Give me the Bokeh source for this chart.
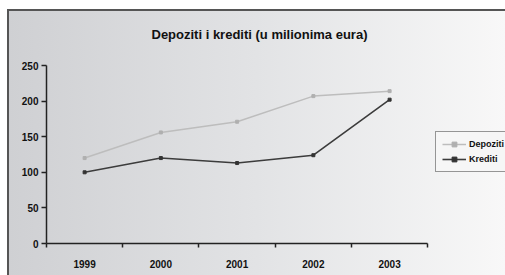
from bokeh.plotting import figure
from bokeh.models import Range1d, FixedTicker, Legend, LegendItem
from bokeh.embed import file_html
from bokeh.resources import INLINE

years = ["1999", "2000", "2001", "2002", "2003"]
depoziti = [120, 156, 171, 207, 214]
krediti = [100, 120, 113, 124, 202]
y_ticks = [0, 50, 100, 150, 200, 250]

FONT = "Liberation Sans"

x = [i + 0.5 for i in range(len(years))]

p = figure(width=505, height=275, output_backend="svg", toolbar_location=None,
           x_range=Range1d(0, 6.02), y_range=Range1d(0, 250),
           min_border_left=46, min_border_top=64, min_border_right=0,
           min_border_bottom=32)
p.styles = {
    "background": (
        "linear-gradient(#555555, #555555) 7px 9px / 498px 2px no-repeat, "
        "linear-gradient(#555555, #555555) 7px 9px / 2px 266px no-repeat, "
        "linear-gradient(to right, #cfd0d3 0%, #e2e3e5 50%, #f8f8f8 100%) 9px 11px / 496px 264px no-repeat, "
        "#ffffff"
    )
}
p.background_fill_color = None
p.border_fill_color = None
p.outline_line_color = None
p.grid.visible = False

p.title.text = "Depoziti i krediti (u milionima eura)"
p.title.text_font = FONT
p.title.text_font_size = "13px"
p.title.text_font_style = "bold"
p.title.text_color = "#111111"
p.title.align = "left"
p.title.offset = 105
p.title.standoff = 48

# x axis: labels at category centres, ticks at category boundaries
p.xaxis.ticker = FixedTicker(ticks=x, minor_ticks=list(range(len(years) + 1)))
p.xaxis.major_label_overrides = {xi: yr for xi, yr in zip(x, years)}
p.xaxis.bounds = (0, len(years))
p.xaxis.major_tick_out = 0
p.xaxis.major_tick_in = 0
p.xaxis.minor_tick_out = 4
p.xaxis.minor_tick_in = 0
p.xaxis.minor_tick_line_color = "#222222"
p.xaxis.minor_tick_line_width = 1.5

p.yaxis.ticker = FixedTicker(ticks=y_ticks)
p.yaxis.major_tick_out = 5
p.yaxis.major_tick_in = 0
p.yaxis.minor_tick_out = 0
p.yaxis.minor_tick_in = 0
p.yaxis.major_tick_line_width = 1.5

for ax in (p.xaxis, p.yaxis):
    ax.axis_line_color = "#222222"
    ax.axis_line_width = 1.5
    ax.major_tick_line_color = "#222222"
    ax.major_label_text_font = FONT
    ax.major_label_text_font_size = "10px"
    ax.major_label_text_font_style = "bold"
    ax.major_label_text_color = "#111111"
p.xaxis.major_label_standoff = 12
p.yaxis.major_label_standoff = 3

l1 = p.line(x, depoziti, line_color="#bdbdbd", line_width=1.5)
s1 = p.scatter(x, depoziti, marker="square", size=3, fill_color="#b0b0b0", line_color="#b0b0b0")
l2 = p.line(x, krediti, line_color="#3c3c3c", line_width=1.6)
s2 = p.scatter(x, krediti, marker="square", size=3, fill_color="#333333", line_color="#333333")

legend = Legend(items=[LegendItem(label="Depoziti", renderers=[l1, s1]),
                       LegendItem(label="Krediti", renderers=[l2, s2])],
                location=(389, 71), orientation="vertical")
legend.label_text_font = FONT
legend.label_text_font_size = "9px"
legend.label_text_font_style = "bold"
legend.label_text_color = "#111111"
legend.label_height = 12
legend.glyph_height = 12
legend.glyph_width = 24
legend.label_standoff = 3
legend.spacing = 3
legend.padding = 6
legend.margin = 0
legend.border_line_color = "#333333"
legend.border_line_width = 1
legend.background_fill_color = "#f6f6f6"
legend.background_fill_alpha = 1
p.add_layout(legend, "center")

open("out.html", "w").write(file_html(p, INLINE))
